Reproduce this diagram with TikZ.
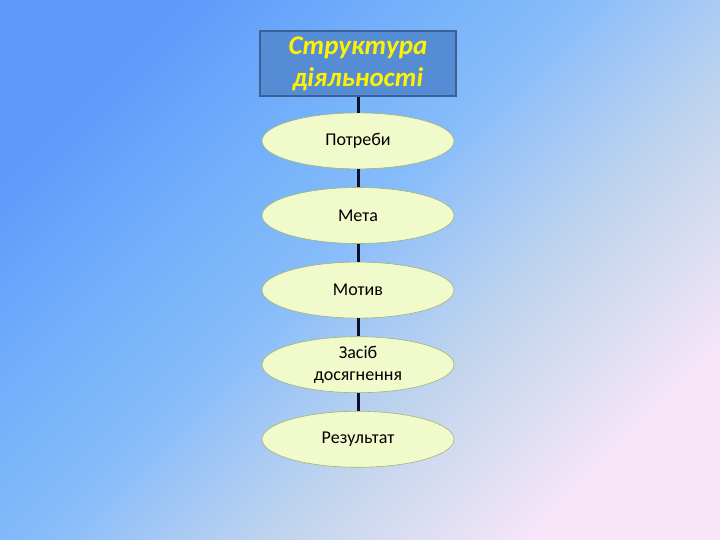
\documentclass[tikz,border=0pt]{standalone}
\usepackage{fontspec}
\setmainfont{Carlito}
\usepackage{tikz}
\usetikzlibrary{positioning,shapes.geometric}
\definecolor{bgA}{RGB}{94,155,251}
\definecolor{bgB}{RGB}{120,180,250}
\definecolor{bgC}{RGB}{136,188,250}
\definecolor{bgD}{RGB}{164,200,245}
\definecolor{bgE}{RGB}{194,213,237}
\definecolor{bgF}{RGB}{246,230,248}
\definecolor{boxfill}{RGB}{86,140,212}
\definecolor{boxedge}{RGB}{58,96,150}
\definecolor{ellfill}{RGB}{240,250,202}
\definecolor{elledge}{RGB}{160,180,120}
\definecolor{linkcol}{RGB}{12,16,40}
\pgfdeclareverticalshading{slidebg}{100bp}{color(0bp)=(bgF); color(25bp)=(bgF);
  color(39bp)=(bgE); color(46.5bp)=(bgD); color(52.5bp)=(bgC);
  color(60bp)=(bgB); color(75bp)=(bgA); color(100bp)=(bgA)}
\tikzset{
  titlebox/.style = {rectangle, draw=boxedge, fill=boxfill, line width=1.2pt,
    minimum width=196pt, minimum height=65pt, align=center, text=yellow,
    font=\bfseries\itshape\fontsize{27}{32}\selectfont},% the heading box
  stagenode/.style = {ellipse, draw=elledge, fill=ellfill, line width=0.6pt,
    minimum width=192pt, minimum height=56pt, inner sep=0pt, align=center,
    font=\fontsize{18}{22}\selectfont},% one stage
  link/.style = {line width=3pt, linkcol}
}
\begin{document}
\begin{tikzpicture}[x=1pt,y=1pt,node distance=18pt]
\shade[shading=slidebg, shading angle=45] (0,0) rectangle (720,-540);
\node [titlebox] (title) at (358,-63.5) {Структура\\діяльності};
\node [stagenode, below=16pt of title] (needs) {Потреби};
\node [stagenode, below=of needs] (goal) {Мета};
\node [stagenode, below=of goal] (motive) {Мотив};
\node [stagenode, below=of motive] (means) {Засіб\\досягнення};
\node [stagenode, below=of means] (result) {Результат};
\foreach \a/\b in {title/needs,needs/goal,goal/motive,motive/means,means/result}
  \draw [link] (\a) -- (\b);
\end{tikzpicture}
\end{document}
